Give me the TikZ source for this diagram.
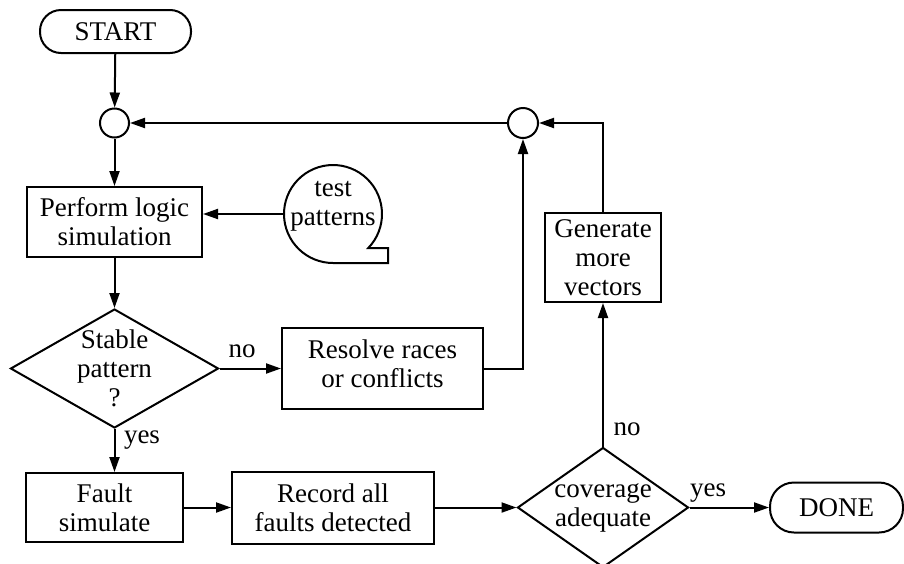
\documentclass[tikz,border=0pt]{standalone}
\usepackage{fontspec}
\setmainfont{Liberation Serif}
\usetikzlibrary{arrows.meta,shapes.geometric}
\begin{document}
\begin{tikzpicture}[x=1pt,y=-1pt,
  every node/.style={font=\fontsize{27}{29}\selectfont, line width=2pt},
  box/.style={draw, rectangle, inner sep=0pt, align=center},
  term/.style={draw, rectangle, rounded corners=#1, inner sep=0pt},
  junc/.style={draw, circle, minimum size=29pt, inner sep=0pt},
  dia/.style={draw, diamond, inner sep=0pt},
  txt/.style={align=center, inner sep=0pt},
  flow/.style={line width=2pt, -{Triangle[length=15pt,width=10pt]}},
  plain/.style={line width=2pt},
  lab/.style={inner sep=0pt, anchor=base}]
\useasboundingbox (0,0) rectangle (904,563);

% nodes
\node[term=21pt, minimum width=151pt, minimum height=43pt] (start) at (115.5,31.5) {START};
\node[junc] (c1) at (114.5,123) {};
\node[box, minimum width=175pt, minimum height=70pt] (perf) at (114.5,222) {Perform logic\\simulation};
\node[circle, minimum size=98pt, inner sep=0pt] (tape) at (333,214) {};
\node[txt] (tapetxt) at (333,206) {test\\patterns};
\node[dia, minimum width=208pt, minimum height=119pt] (d1) at (114.5,368.5) {};
\node[txt] (d1txt) at (114.5,368) {Stable\\pattern\\?};
\node[draw, rectangle, minimum width=201pt, minimum height=81pt] (resolve) at (382.5,368.5) {};
\node[txt] (resolvetxt) at (382.5,364) {Resolve races\\or conflicts};
\node[box, minimum width=157pt, minimum height=69pt] (fault) at (104.5,507.5) {Fault\\simulate};
\node[box, minimum width=202pt, minimum height=72pt] (record) at (333,507.5) {Record all\\faults detected};
\node[dia, minimum width=171pt, minimum height=120pt] (d2) at (603,507.5) {};
\node[txt] (d2txt) at (603,508) {coverage\\adequate};
\node[term=24pt, minimum width=133pt, minimum height=50pt] (done) at (836.5,507.5) {DONE};
\node[box, minimum width=116pt, minimum height=89pt] (gen) at (603,257.5) {Generate\\more\\vectors};
\node[junc, minimum size=30pt] (c2) at (523,123) {};

% labels
\node[lab] (no1) at (242,357) {no};
\node[lab] (yes1) at (142,443) {yes};
\node[lab] (no2) at (627,435) {no};
\node[lab] (yes2) at (708,496) {yes};

% tape outline (circle with a square tail at the lower right)
\begin{scope}[shift={(333,214)}, y=1pt]
  \draw[plain, line join=miter] (-44:49) arc[start angle=-44, end angle=270, radius=49]
    -- (55,-49) -- (55,-34) -- cycle;
\end{scope}

% connectors
\draw[flow] (start) -- (c1);
\draw[flow] (c1) -- (perf);
\draw[flow] (perf) -- (d1);
\draw[flow] (tape.west) -- (tape.west -| perf.east);
\draw[flow] (d1.east) -- (resolve.west);
\draw[flow] (d1.south) -- (d1.south |- fault.north);
\draw[flow] (fault) -- (record);
\draw[flow] (record) -- (d2);
\draw[flow] (d2) -- (done);
\draw[flow] (d2.north) -- (gen.south);
\draw[flow] (gen.north) |- (c2.east);
\draw[flow] (resolve.east) -| (c2.south);
\draw[flow] (c2) -- (c1);
\end{tikzpicture}
\end{document}
